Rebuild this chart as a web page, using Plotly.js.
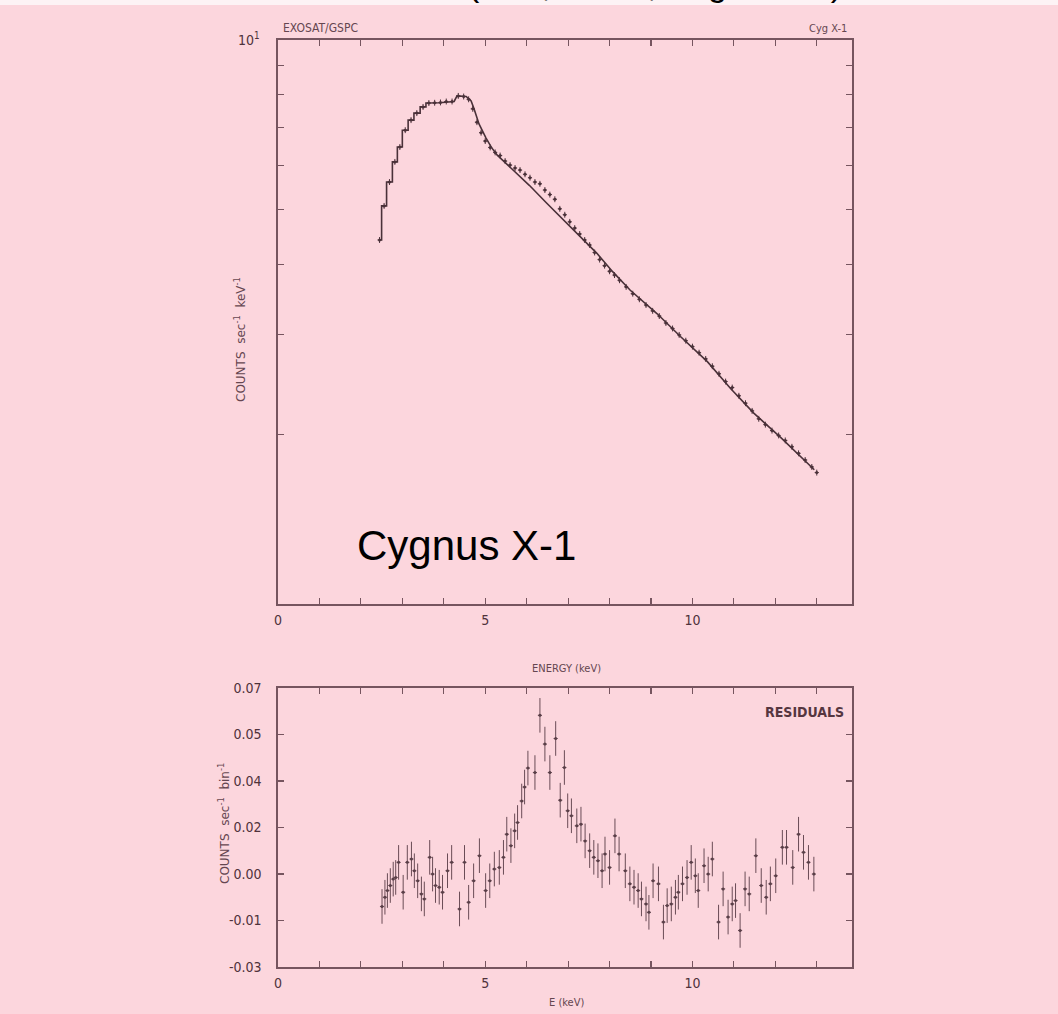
<!DOCTYPE html>
<html>
<head>
<meta charset="utf-8">
<script src="https://cdn.plot.ly/plotly-3.0.1.min.js"></script>
<style>
  html, body { margin: 0; padding: 0; background: #fcd6dd; }
  #chart { width: 1058px; height: 1014px; }
</style>
</head>
<body>
<div id="chart"></div>
<script>
// EXOSAT GSPC spectrum of Cyg X-1: count rate vs energy, with fit residuals.

// Observed spectrum (keV, counts s^-1 keV^-1)
const spectrumEnergy = [2.45, 2.56, 2.69, 2.82, 2.94, 3.07, 3.21, 3.35, 3.50, 3.64, 3.78, 3.92, 4.06, 4.20,
  4.35, 4.48, 4.60, 4.70, 4.80, 4.90, 5.00, 5.12, 5.24, 5.36, 5.48, 5.60, 5.72, 5.84, 5.96, 6.08, 6.20,
  6.32, 6.44, 6.56, 6.68, 6.80, 6.92, 7.04, 7.16, 7.28, 7.40, 7.52, 7.64, 7.76, 7.88, 8.00, 8.12, 8.24,
  8.40, 8.56, 8.72, 8.88, 9.04, 9.20, 9.36, 9.52, 9.68, 9.84, 10.00, 10.16, 10.32, 10.48, 10.64, 10.80,
  10.96, 11.12, 11.28, 11.44, 11.60, 11.76, 11.92, 12.08, 12.24, 12.40, 12.56, 12.72, 12.88, 13.00];
const spectrumRate = [4.42, 5.08, 5.60, 6.08, 6.46, 6.92, 7.21, 7.42, 7.61, 7.73, 7.74, 7.75, 7.78, 7.78,
  7.96, 7.94, 7.85, 7.55, 7.15, 6.85, 6.62, 6.45, 6.32, 6.24, 6.10, 6.00, 5.93, 5.88, 5.78, 5.70, 5.60,
  5.56, 5.42, 5.32, 5.22, 5.02, 4.90, 4.76, 4.64, 4.53, 4.42, 4.33, 4.20, 4.08, 3.98, 3.89, 3.83, 3.75,
  3.65, 3.55, 3.47, 3.39, 3.31, 3.24, 3.15, 3.08, 3.00, 2.93, 2.86, 2.79, 2.72, 2.64, 2.56, 2.48,
  2.42, 2.34, 2.27, 2.20, 2.13, 2.08, 2.03, 1.99, 1.95, 1.90, 1.85, 1.80, 1.75, 1.71];

// Fitted continuum model (stepped over the low-energy channels)
const modelEnergy = [2.45, 2.50, 2.50, 2.62, 2.62, 2.76, 2.76, 2.88, 2.88, 3.00, 3.00, 3.14, 3.14, 3.28,
  3.28, 3.43, 3.43, 3.57, 3.57, 3.90, 4.25, 4.32, 4.54, 4.66, 4.73, 4.85, 5.02, 5.15, 5.29, 5.66, 6.07,
  6.48, 6.87, 7.28, 7.69, 8.08, 8.50, 9.15, 9.71, 10.36, 10.92, 11.48, 12.14, 12.94];
const modelRate = [4.42, 4.42, 5.08, 5.08, 5.60, 5.60, 6.08, 6.08, 6.46, 6.46, 6.92, 6.92, 7.21, 7.21,
  7.42, 7.42, 7.61, 7.61, 7.73, 7.74, 7.78, 7.96, 7.94, 7.80, 7.55, 7.10, 6.70, 6.45, 6.25, 5.90, 5.52,
  5.14, 4.81, 4.49, 4.19, 3.88, 3.60, 3.27, 2.98, 2.69, 2.41, 2.18, 1.97, 1.73];

// Residuals (counts s^-1 bin^-1)
const residualEnergy = [2.51, 2.58, 2.64, 2.71, 2.78, 2.84, 2.91, 3.02, 3.12, 3.22, 3.29, 3.37, 3.46, 3.53,
  3.66, 3.73, 3.80, 3.89, 3.97, 4.09, 4.19, 4.38, 4.50, 4.60, 4.72, 4.86, 5.01, 5.11, 5.22, 5.34, 5.44,
  5.52, 5.62, 5.71, 5.78, 5.88, 5.95, 6.03, 6.20, 6.32, 6.44, 6.56, 6.70, 6.81, 6.91, 6.99, 7.08, 7.21,
  7.31, 7.41, 7.52, 7.62, 7.72, 7.82, 7.89, 8.00, 8.13, 8.23, 8.38, 8.49, 8.59, 8.69, 8.77, 8.88, 8.95,
  9.05, 9.18, 9.30, 9.39, 9.49, 9.59, 9.66, 9.76, 9.87, 9.97, 10.07, 10.14, 10.28, 10.38, 10.48, 10.63,
  10.74, 10.86, 10.96, 11.04, 11.15, 11.27, 11.37, 11.53, 11.66, 11.78, 11.88, 12.01, 12.17, 12.27,
  12.42, 12.56, 12.68, 12.80, 12.93];
const residualValue = [-0.0083, -0.0050, -0.0026, -0.0008, 0.0015, 0.0021, 0.0075, -0.0032, 0.0075, 0.0087,
  0.0045, 0.0009, -0.0038, -0.0056, 0.0093, 0.0033, -0.0008, -0.0014, -0.0032, 0.0045, 0.0075, -0.0092,
  0.0075, -0.0068, 0.0009, 0.0099, -0.0026, 0.0009, 0.0051, 0.0057, 0.0093, 0.0176, 0.0135, 0.0188,
  0.0218, 0.0295, 0.0345, 0.0413, 0.0397, 0.0602, 0.0499, 0.0397, 0.0519, 0.0298, 0.0415, 0.0260, 0.0242,
  0.0206, 0.0212, 0.0152, 0.0117, 0.0093, 0.0081, 0.0045, 0.0105, 0.0057, 0.0170, 0.0105, 0.0045, -0.0002,
  -0.0014, -0.0026, -0.0056, -0.0074, -0.0104, 0.0009, -0.0002, -0.0139, -0.0080, -0.0074, -0.0050,
  -0.0032, -0.0002, 0.0021, 0.0075, 0.0027, -0.0026, 0.0063, 0.0033, 0.0087, -0.0139, -0.0020, -0.0121,
  -0.0074, -0.0062, -0.0169, -0.0020, -0.0038, 0.0099, -0.0008, -0.0050, -0.0002, 0.0027, 0.0129, 0.0129,
  0.0057, 0.0176, 0.0111, 0.0075, 0.0033];
const residualError = 0.0062;
const binHalfWidth = 0.05;

// Axis ticks
const energyTicks = [0, 1, 2, 3, 4, 5, 6, 7, 8, 9, 10, 11, 12, 13];
const energyLabels = ['0', '', '', '', '', '5', '', '', '', '', '10', '', '', ''];
const rateTicks = [1, 2, 3, 4, 5, 6, 7, 8, 9, 10];
const rateLabels = ['', '', '', '', '', '', '', '', '', '10<sup>1</sup>'];
const residualTicks = [-0.03, -0.01333, 0.00333, 0.02, 0.03667, 0.05333, 0.07];
const residualLabels = ['-0.03', '-0.01', '0.00', '0.02', '0.04', '0.05', '0.07'];

const W = 1058, H = 1014;
const px = v => v / W;
const py = v => 1 - v / H;

const ink = '#4a3139';
const axisInk = '#76555f';
const condensed = 'DejaVu Sans Condensed, Liberation Sans Narrow, sans-serif';
const labelFont = { family: condensed, size: 14, color: '#4f323b' };
const axisTitleFont = { family: 'DejaVu Sans, sans-serif', size: 12, color: '#654650' };

const traces = [
  {
    x: modelEnergy, y: modelRate, xaxis: 'x', yaxis: 'y',
    mode: 'lines', line: { color: ink, width: 1.6 }, hoverinfo: 'skip'
  },
  {
    x: spectrumEnergy, y: spectrumRate, xaxis: 'x', yaxis: 'y',
    mode: 'markers', marker: { color: ink, size: 3 },
    error_x: { type: 'constant', value: binHalfWidth, color: ink, thickness: 1, width: 0 },
    error_y: { type: 'percent', value: 1.2, color: ink, thickness: 1, width: 0 }
  },
  {
    x: residualEnergy, y: residualValue, xaxis: 'x2', yaxis: 'y2',
    mode: 'markers', marker: { color: '#5a3f48', size: 3 },
    error_x: { type: 'constant', value: binHalfWidth, color: '#6a4c56', thickness: 1, width: 0 },
    error_y: { type: 'constant', value: residualError, color: '#6a4c56', thickness: 1, width: 0 }
  }
];

const energyAxis = {
  range: [0, 13.85], tickmode: 'array', tickvals: energyTicks, ticktext: energyLabels,
  ticks: 'inside', ticklen: 6, tickwidth: 1.2, tickcolor: axisInk, ticklabelstandoff: 3,
  showline: true, linecolor: axisInk, linewidth: 1.6, mirror: 'ticks',
  showgrid: false, zeroline: false, tickfont: labelFont, fixedrange: true
};

const valueAxis = {
  tickmode: 'array', ticks: 'inside', ticklen: 6, tickwidth: 1.2, tickcolor: axisInk,
  ticklabelstandoff: 12,
  showline: true, linecolor: axisInk, linewidth: 1.6, mirror: 'ticks',
  showgrid: false, zeroline: false, tickfont: labelFont, fixedrange: true
};

const layout = {
  width: W, height: H,
  margin: { l: 0, r: 0, t: 0, b: 0 },
  paper_bgcolor: '#fcd6dd', plot_bgcolor: '#fcd6dd',
  showlegend: false,
  xaxis: Object.assign({}, energyAxis, { domain: [px(278), px(852)], anchor: 'y' }),
  yaxis: Object.assign({}, valueAxis, {
    type: 'log', range: [0, 1], domain: [py(604), py(40)], anchor: 'x',
    tickvals: rateTicks, ticktext: rateLabels, ticklabelstandoff: 14
  }),
  xaxis2: Object.assign({}, energyAxis, { domain: [px(278), px(852)], anchor: 'y2' }),
  yaxis2: Object.assign({}, valueAxis, {
    range: [-0.03, 0.07], domain: [py(967), py(688)], anchor: 'x2',
    tickvals: residualTicks, ticktext: residualLabels
  }),
  shapes: [
    { type: 'rect', xref: 'paper', yref: 'paper', x0: 0, x1: 1, y0: py(5), y1: 1,
      fillcolor: '#fdf3f5', line: { width: 0 }, layer: 'below' }
  ],
  annotations: [
    { text: '(Barr, White, Page 1985)', xref: 'paper', yref: 'paper', x: px(655), y: py(5),
      xanchor: 'center', yanchor: 'bottom', showarrow: false,
      font: { family: 'Liberation Sans, Arial, sans-serif', size: 34, color: '#000000' } },
    { text: 'EXOSAT/GSPC', xref: 'paper', yref: 'paper', x: px(281), y: py(28),
      xanchor: 'left', yanchor: 'middle', showarrow: false, font: { family: condensed, size: 12, color: '#654650' } },
    { text: 'Cyg X-1', xref: 'paper', yref: 'paper', x: px(849), y: py(28),
      xanchor: 'right', yanchor: 'middle', showarrow: false, font: { family: condensed, size: 11, color: '#654650' } },
    { text: 'COUNTS  sec<sup>-1</sup>  keV<sup>-1</sup>', xref: 'paper', yref: 'paper', x: px(240), y: py(340),
      xanchor: 'center', yanchor: 'middle', textangle: -90, showarrow: false, font: axisTitleFont },
    { text: 'Cygnus X-1', xref: 'paper', yref: 'paper', x: px(355), y: py(545),
      xanchor: 'left', yanchor: 'middle', showarrow: false,
      font: { family: 'Liberation Sans, Arial, sans-serif', size: 42, color: '#000000' } },
    { text: 'ENERGY (keV)', xref: 'paper', yref: 'paper', x: px(566), y: py(668),
      xanchor: 'center', yanchor: 'middle', showarrow: false, font: { family: condensed, size: 11, color: '#654650' } },
    { text: '<b>RESIDUALS</b>', xref: 'paper', yref: 'paper', x: px(846), y: py(712),
      xanchor: 'right', yanchor: 'middle', showarrow: false,
      font: { family: condensed, size: 14, color: '#553640' } },
    { text: 'COUNTS  sec<sup>-1</sup>  bin<sup>-1</sup>', xref: 'paper', yref: 'paper', x: px(224), y: py(824),
      xanchor: 'center', yanchor: 'middle', textangle: -90, showarrow: false, font: axisTitleFont },
    { text: 'E (keV)', xref: 'paper', yref: 'paper', x: px(566), y: py(1002),
      xanchor: 'center', yanchor: 'middle', showarrow: false, font: { family: condensed, size: 11, color: '#654650' } }
  ]
};

Plotly.newPlot('chart', traces, layout, { displayModeBar: false, staticPlot: true });
</script>
</body>
</html>
